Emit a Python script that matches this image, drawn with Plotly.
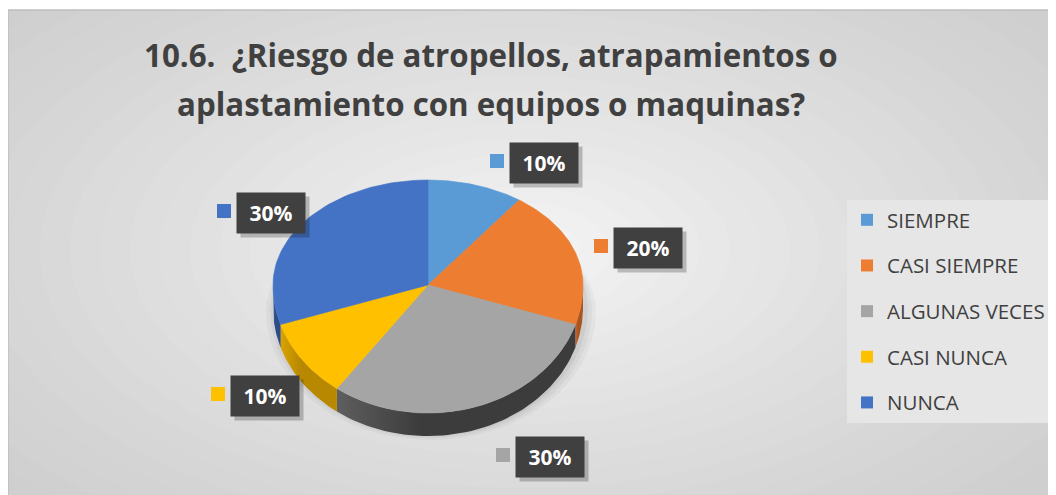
import math
import plotly.graph_objects as go

# datos del gráfico
categorias = ["SIEMPRE", "CASI SIEMPRE", "ALGUNAS VECES", "CASI NUNCA", "NUNCA"]
porcentajes = [10, 20, 30, 10, 30]
colores = ["#5B9BD5", "#ED7D31", "#A5A5A5", "#FFC000", "#4472C4"]
colores_lado = [
    ["#4a82b6", "#3a6b99"],
    ["#c8662a", "#a95520"],
    ["#5e5e5e", "#3c3c3c"],
    ["#d9a300", "#b88900"],
    ["#3a62a8", "#2d4d88"],
]
titulo = ["10.6.  ¿Riesgo de atropellos, atrapamientos o",
          "aplastamiento con equipos o maquinas?"]

W, H = 1056, 495
OFF = 8  # margen del body de la página
# geometría del pastel 3D (pixeles de la página)
cx, cy = 428, 285
rx, r_atras, r_frente = 155, 105, 128
prof = 23

# posiciones de etiquetas (centro de la caja)
pos_etiquetas = [(544, 163), (648, 248), (550, 457), (265, 396), (271, 213)]


def punto(a, dy=0.0):
    t = math.radians(a)
    r = r_atras if math.cos(t) >= 0 else r_frente
    return cx + rx * math.sin(t), cy - r * math.cos(t) + dy


def arco(a1, a2, dy=0.0, n=60):
    pts = [punto(a1 + (a2 - a1) * i / n, dy) for i in range(n + 1)]
    return [p[0] for p in pts], [p[1] for p in pts]


fig = go.Figure()

# angulos de cada porcion (sentido horario desde las 12)
total = sum(porcentajes)
angulos = []
acum = 0
for v in porcentajes:
    a1 = acum / total * 360
    acum += v
    angulos.append((a1, acum / total * 360))

# sombra suave bajo el pastel
for k, alpha in enumerate([0.03, 0.04, 0.05]):
    xs, ys = arco(0, 360, prof + 4 - k * 2)
    grow = 10 - k * 4
    xs = [cx + (x - cx) * (1 + grow / rx) + 3 for x in xs]
    fig.add_trace(go.Scatter(x=xs, y=ys, fill="toself", mode="lines", line=dict(width=0),
                             fillcolor=f"rgba(0,0,0,{alpha})", showlegend=False, hoverinfo="skip"))

# lados (solo mitad frontal)
for (a1, a2), cl in zip(angulos, colores_lado):
    s1, s2 = max(a1, 90), min(a2, 270)
    if s1 >= s2:
        continue
    xt, yt = arco(s1, s2)
    xb, yb = arco(s1, s2, prof)
    fig.add_trace(go.Scatter(
        x=xt + xb[::-1] + [xt[0]], y=yt + yb[::-1] + [yt[0]],
        fill="toself", mode="lines", line=dict(width=0),
        fillgradient=dict(type="horizontal", colorscale=[[0, cl[0]], [0.35, cl[1]], [1, cl[1]]]),
        showlegend=False, hoverinfo="skip"))

# cara superior
for (a1, a2), c, cat, v in zip(angulos, colores, categorias, porcentajes):
    xs, ys = arco(a1, a2)
    fig.add_trace(go.Scatter(
        x=[cx] + xs + [cx], y=[cy] + ys + [cy], fill="toself", mode="lines",
        line=dict(width=0.6, color=c), fillcolor=c, showlegend=False,
        hoveron="fills", text=f"{cat}: {v}%", hoverinfo="text"))

# leyenda
for i, (cat, c) in enumerate(zip(categorias, colores)):
    fig.add_trace(go.Scatter(x=[None], y=[None], mode="markers", name=cat,
                             marker=dict(symbol="square", size=14, color=c),
                             legendgroup=str(i)))

# marcadores de color junto a las etiquetas
fig.add_trace(go.Scatter(
    x=[p[0] - 47 for p in pos_etiquetas], y=[p[1] - 2 for p in pos_etiquetas],
    mode="markers", marker=dict(symbol="square", size=14, color=colores),
    showlegend=False, hoverinfo="skip"))

anotaciones = []
for (x, y), v in zip(pos_etiquetas, porcentajes):
    anotaciones.append(dict(x=x + 4, y=y + 4, xref="x", yref="y", text="&nbsp;",
                            showarrow=False, width=60, height=32, borderpad=4,
                            bgcolor="rgba(0,0,0,0.22)"))
    anotaciones.append(dict(x=x, y=y, xref="x", yref="y", text=f"<b>{v}%</b>",
                            showarrow=False, width=60, height=32, borderpad=4,
                            font=dict(size=21, color="white", family="Open Sans"),
                            bgcolor="#404040"))

for linea, y in zip(titulo, [55, 104]):
    anotaciones.append(dict(x=491, y=y, xref="x", yref="y", text=f"<b>{linea}</b>",
                            showarrow=False, font=dict(size=31.3, color="#404040", family="Open Sans")))

# fondo con degradado radial
formas = []
n = 24
for i in range(n):
    f = 1 - i / n
    g = int(0xcf + (0xf4 - 0xcf) * (i / (n - 1)) ** 1.2)
    formas.append(dict(type="circle", xref="x", yref="y", layer="below",
                       x0=520 - 720 * f, x1=520 + 720 * f, y0=250 - 380 * f, y1=250 + 380 * f,
                       fillcolor=f"rgb({g},{g},{g})", line=dict(width=0)))
formas.append(dict(type="rect", xref="x", yref="y", layer="below", x0=0, x1=8, y0=0, y1=H + 20,
                   fillcolor="white", line=dict(width=0)))
formas.append(dict(type="rect", xref="x", yref="y", layer="below", x0=0, x1=W + 20, y0=0, y1=10,
                   fillcolor="white", line=dict(width=0)))
formas.append(dict(type="rect", xref="x", yref="y", layer="below", x0=8, x1=W + 20, y0=10, y1=H + 20,
                   fillcolor="rgba(0,0,0,0)", line=dict(width=1.5, color="#bfbfbf")))

fig.update_layout(
    width=W, height=H,
    margin=dict(l=0, r=0, t=0, b=0),
    paper_bgcolor="white", plot_bgcolor="white",
    xaxis=dict(range=[OFF, W + OFF], visible=False, fixedrange=True),
    yaxis=dict(range=[H + OFF, OFF], visible=False, fixedrange=True),
    shapes=formas,
    annotations=anotaciones,
    showlegend=True,
    legend=dict(x=(847 - OFF) / W, y=1 - (200 - OFF) / H, xanchor="left", yanchor="top",
                bgcolor="#e6e6e6", font=dict(size=20.5, color="#404040", family="Open Sans"),
                tracegroupgap=16, itemsizing="constant", itemwidth=30),
    hovermode="closest",
)

fig.write_html("out.html")
